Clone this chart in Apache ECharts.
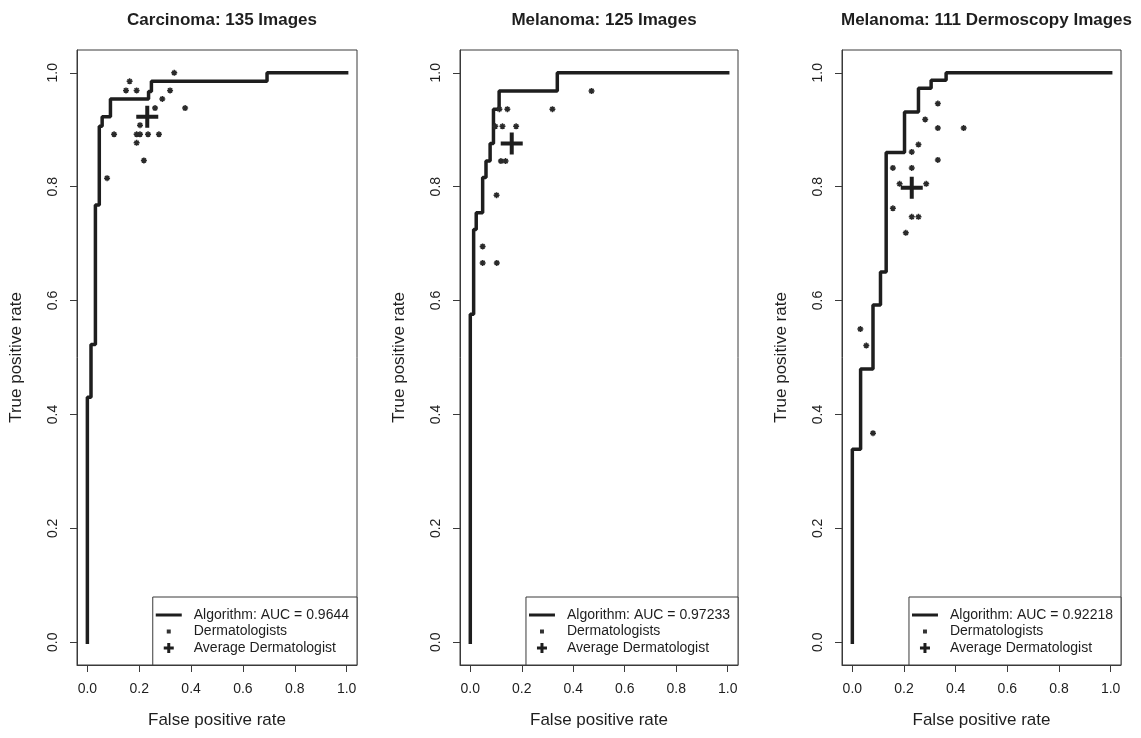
<!DOCTYPE html>
<html lang="en">
<head>
<meta charset="UTF-8">
<title>ROC curves</title>
<script src="https://cdn.jsdelivr.net/npm/echarts@6/dist/echarts.min.js"></script>
<style>
  html, body { margin: 0; padding: 0; background: #fff; }
  #chart { width: 1141px; height: 738px; }
</style>
</head>
<body>
<div id="chart"></div>
<script>
var titles = ['Carcinoma: 135 Images', 'Melanoma: 125 Images', 'Melanoma: 111 Dermoscopy Images'];
var aucNames = ['Algorithm: AUC = 0.9644', 'Algorithm: AUC = 0.97233', 'Algorithm: AUC = 0.92218'];
var tickValues = [0, 0.2, 0.4, 0.6, 0.8, 1.0];

// ROC corners (top of every vertical step)
var rocFpr1 = [0, 0, 0.014, 0.031, 0.046, 0.057, 0.089, 0.236, 0.247, 0.693, 1.0];
var rocTpr1 = [0, 0.43, 0.523, 0.768, 0.906, 0.923, 0.954, 0.967, 0.985, 1.0, 1.0];
var rocFpr2 = [0, 0, 0.013, 0.023, 0.048, 0.061, 0.077, 0.090, 0.112, 0.338, 1.0];
var rocTpr2 = [0, 0.576, 0.725, 0.754, 0.816, 0.845, 0.876, 0.936, 0.968, 1.0, 1.0];
var rocFpr3 = [0, 0, 0.032, 0.080, 0.109, 0.131, 0.202, 0.256, 0.305, 0.363, 1.0];
var rocTpr3 = [0, 0.339, 0.48, 0.592, 0.65, 0.86, 0.931, 0.973, 0.987, 1.0, 1.0];

// single dermatologists
var dermFpr1 = [0.335, 0.163, 0.149, 0.190, 0.319, 0.289, 0.261, 0.377, 0.203, 0.103, 0.190, 0.203, 0.234, 0.276, 0.190, 0.218, 0.076];
var dermTpr1 = [1.0, 0.985, 0.969, 0.969, 0.969, 0.954, 0.938, 0.938, 0.908, 0.892, 0.892, 0.892, 0.892, 0.892, 0.877, 0.846, 0.815];
var dermFpr2 = [0.471, 0.319, 0.113, 0.144, 0.097, 0.125, 0.178, 0.119, 0.137, 0.102, 0.048, 0.048, 0.103];
var dermTpr2 = [0.968, 0.936, 0.936, 0.936, 0.906, 0.906, 0.906, 0.845, 0.845, 0.785, 0.695, 0.666, 0.666];
var dermFpr3 = [0.331, 0.282, 0.331, 0.431, 0.256, 0.230, 0.331, 0.157, 0.230, 0.183, 0.286, 0.157, 0.230, 0.256, 0.207, 0.031, 0.054, 0.080];
var dermTpr3 = [0.946, 0.918, 0.903, 0.903, 0.874, 0.861, 0.847, 0.833, 0.833, 0.805, 0.805, 0.762, 0.747, 0.747, 0.719, 0.55, 0.521, 0.367];

// average dermatologist [fpr, tpr]
var avgDerm1 = [0.231, 0.923];
var avgDerm2 = [0.161, 0.876];
var avgDerm3 = [0.230, 0.798];

var rocFpr = [rocFpr1, rocFpr2, rocFpr3];
var rocTpr = [rocTpr1, rocTpr2, rocTpr3];
var dermFpr = [dermFpr1, dermFpr2, dermFpr3];
var dermTpr = [dermTpr1, dermTpr2, dermTpr3];
var avgDerm = [avgDerm1, avgDerm2, avgDerm3];

function zip(a, b) {
    return a.map(function (v, i) { return [v, b[i]]; });
}

var font = 'Liberation Sans, Arial, sans-serif';
var ink = '#1e1e1e';
var boxes = [
    { left: 77, width: 280 },
    { left: 460, width: 278 },
    { left: 842, width: 279 }
];
var starIcon = 'path://M5,0V10M0,5H10M1.5,1.5L8.5,8.5M8.5,1.5L1.5,8.5';
var crossIcon = 'path://M9,0H13V9H22V13H13V22H9V13H0V9H9Z';
// legend icons padded to 33x14 so they keep their own size
var legLine = 'path://M0,0M33,14M0,5.5H26V8.5H0Z';
var legDot = 'path://M0,0M33,14M11,5H15V9H11Z';
var legCross = 'path://M0,0M33,14M11.5,2H14.5V5.5H18V8.5H14.5V12H11.5V8.5H8V5.5H11.5Z';

var myChart = echarts.init(document.getElementById('chart'));

var option = {
    backgroundColor: '#fff',
    animation: false,
    title: [], grid: [], xAxis: [], yAxis: [], legend: [], series: []
};

boxes.forEach(function (b, i) {
    option.title.push({
        text: titles[i],
        left: b.left + b.width / 2,
        textAlign: 'center',
        top: 7,
        textStyle: { fontFamily: font, fontSize: 17, fontWeight: 'bold', color: ink }
    });
    option.grid.push({
        left: b.left, top: 50, width: b.width, height: 615,
        show: true, borderColor: '#3a3a3a', borderWidth: 1, backgroundColor: 'transparent'
    });
    option.xAxis.push({
        type: 'value', gridIndex: i, min: -0.04, max: 1.04,
        name: 'False positive rate', nameLocation: 'middle', nameGap: 47,
        nameTextStyle: { fontFamily: font, fontSize: 17, color: ink },
        axisLine: { show: true, onZero: false, lineStyle: { color: '#3a3a3a', width: 1 } },
        axisTick: { show: true, customValues: tickValues, length: 7, lineStyle: { color: '#3a3a3a' } },
        axisLabel: {
            customValues: tickValues, margin: 17, fontFamily: font, fontSize: 14, color: ink,
            formatter: function (v) { return v.toFixed(1); }
        },
        splitLine: { show: false }
    });
    option.yAxis.push({
        type: 'value', gridIndex: i, min: -0.04, max: 1.04,
        name: 'True positive rate', nameLocation: 'middle', nameGap: 52, nameRotate: 90,
        nameTextStyle: { fontFamily: font, fontSize: 17, color: ink },
        axisLine: { show: true, onZero: false, lineStyle: { color: '#3a3a3a', width: 1 } },
        axisTick: { show: true, customValues: tickValues, length: 7, lineStyle: { color: '#3a3a3a' } },
        axisLabel: {
            customValues: tickValues, margin: 17, rotate: 90, fontFamily: font, fontSize: 14, color: ink,
            formatter: function (v) { return v.toFixed(1); }
        },
        splitLine: { show: false }
    });
    option.legend.push({
        orient: 'vertical',
        right: 1141 - (b.left + b.width),
        bottom: 73,
        itemWidth: 33, itemHeight: 14, itemGap: 2.5,
        padding: [11, 8, 10, 3],
        borderColor: '#3a3a3a', borderWidth: 1, backgroundColor: '#fff',
        selectedMode: false,
        textStyle: { fontFamily: font, fontSize: 14, color: ink },
        data: [
            { name: aucNames[i], icon: legLine, itemStyle: { color: ink, borderWidth: 0, opacity: 1 } },
            { name: 'Dermatologists', icon: legDot, itemStyle: { color: '#333', borderWidth: 0, opacity: 1 } },
            { name: 'Average Dermatologist', icon: legCross, itemStyle: { color: ink, borderWidth: 0, opacity: 1 } }
        ]
    });
    option.series.push({
        name: aucNames[i], type: 'line', xAxisIndex: i, yAxisIndex: i,
        step: 'end', showSymbol: false, symbol: 'none', z: 2,
        data: zip(rocFpr[i], rocTpr[i]),
        lineStyle: { color: ink, width: 3.5, cap: 'square' },
        itemStyle: { color: ink }
    });
    option.series.push({
        name: 'Dermatologists', type: 'scatter', xAxisIndex: i, yAxisIndex: i, z: 3,
        symbol: starIcon, symbolSize: 6,
        data: zip(dermFpr[i], dermTpr[i]),
        itemStyle: { color: 'rgba(0,0,0,0)', borderColor: '#2a2a2a', borderWidth: 1.5, opacity: 1 }
    });
    option.series.push({
        name: 'Average Dermatologist', type: 'scatter', xAxisIndex: i, yAxisIndex: i, z: 4,
        symbol: crossIcon, symbolSize: 22,
        data: [avgDerm[i]],
        itemStyle: { color: ink, opacity: 1 }
    });
});

myChart.setOption(option);
</script>
</body>
</html>
